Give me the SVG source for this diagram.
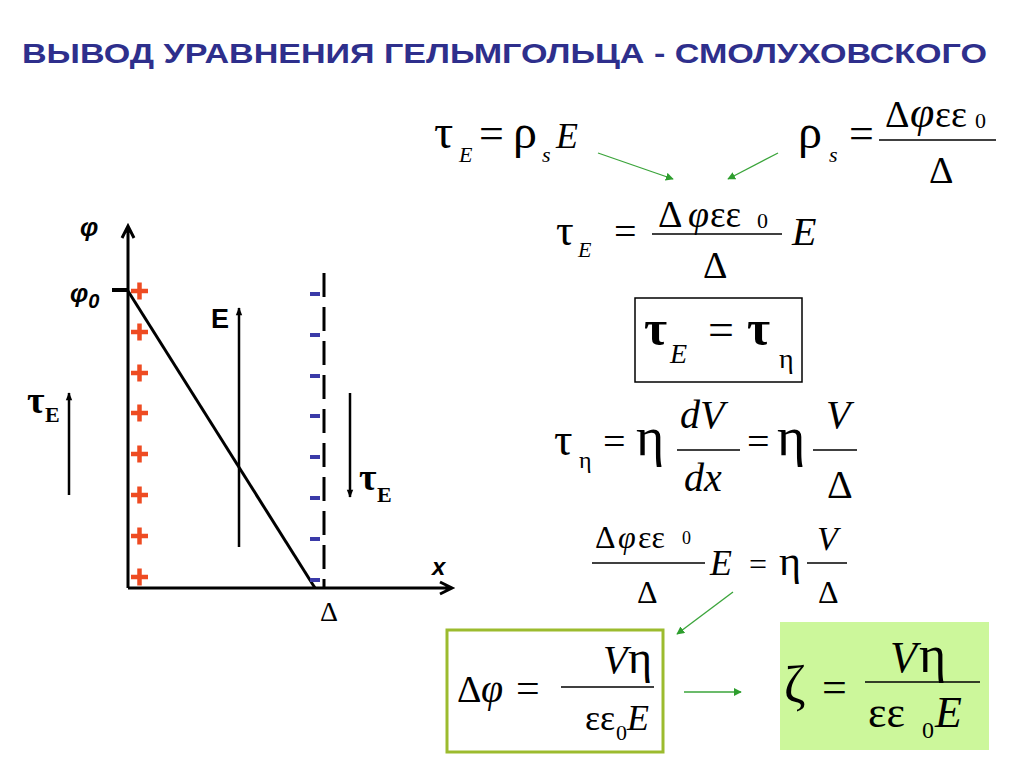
<svg xmlns="http://www.w3.org/2000/svg" width="1024" height="768" viewBox="0 0 1024 768">
<defs>
<style>
.title{font-family:"Liberation Sans",Arial,sans-serif;font-weight:bold;font-size:28px;fill:#2e2f8c}
.m{font-family:"Liberation Serif","Times New Roman",serif;fill:#000}
.i{font-style:italic}
.ax{stroke:#000;stroke-width:3;fill:none}
.plus{stroke:#ee4b22;stroke-width:4.5}
.minus{fill:#3a3aa8}
.g{stroke:#3aa43a;stroke-width:1.3;fill:none}
.lbl{font-family:"Liberation Sans",Arial,sans-serif;font-weight:bold;fill:#000}
.bar{stroke:#000;stroke-width:1.6}
</style>
<marker id="ga" viewBox="0 0 10 10" refX="9" refY="5" markerWidth="8" markerHeight="8" markerUnits="userSpaceOnUse" orient="auto">
<path d="M0,0 L10,5 L0,10 z" fill="#2e9e2e"/>
</marker>
<marker id="ba" viewBox="0 0 10 10" refX="9" refY="5" markerWidth="12" markerHeight="8" markerUnits="userSpaceOnUse" orient="auto">
<path d="M0,1 L10,5 L0,9 z" fill="#000"/>
</marker>
</defs>
<rect width="1024" height="768" fill="#fff"/>
<text class="title" x="22" y="63" textLength="965" lengthAdjust="spacingAndGlyphs">ВЫВОД УРАВНЕНИЯ ГЕЛЬМГОЛЬЦА - СМОЛУХОВСКОГО</text>

<g id="diagram">
<path class="ax" d="M128,588 V228 M122,238 L128,226 L134,238"/>
<path class="ax" d="M128,588 H450 M440,582 L452,588 L440,594"/>
<line x1="112" y1="290" x2="128" y2="290" stroke="#000" stroke-width="4"/>
<line x1="128" y1="291" x2="315" y2="588" stroke="#000" stroke-width="3"/>
<line x1="324" y1="273" x2="324" y2="588" stroke="#000" stroke-width="3" stroke-dasharray="24 10"/>
<g id="plus">
<path class="plus" d="M131,291h17M139.5,282.5v17 M131,332h17M139.5,323.5v17 M131,373h17M139.5,364.5v17 M131,413h17M139.5,404.5v17 M131,454h17M139.5,445.5v17 M131,495h17M139.5,486.5v17 M131,536h17M139.5,527.5v17 M131,577h17M139.5,568.5v17"/>
</g>
<g id="minus">
<rect class="minus" x="310" y="292" width="10" height="4"/>
<rect class="minus" x="310" y="333" width="10" height="4"/>
<rect class="minus" x="310" y="374" width="10" height="4"/>
<rect class="minus" x="310" y="414" width="10" height="4"/>
<rect class="minus" x="310" y="455" width="10" height="4"/>
<rect class="minus" x="310" y="496" width="10" height="4"/>
<rect class="minus" x="310" y="537" width="10" height="4"/>
<rect class="minus" x="310" y="578" width="10" height="4"/>
</g>
<line x1="239" y1="547" x2="239" y2="308" stroke="#000" stroke-width="2.5" marker-end="url(#ba)"/>
<line x1="69" y1="495" x2="69" y2="393" stroke="#000" stroke-width="2.5" marker-end="url(#ba)"/>
<line x1="350" y1="393" x2="350" y2="497" stroke="#000" stroke-width="2.5" marker-end="url(#ba)"/>
<text class="lbl i" x="80" y="236" font-size="26">φ</text>
<text class="lbl i" x="70" y="302" font-size="26">φ<tspan font-size="20" dy="6">0</tspan></text>
<text class="lbl" x="211" y="328" font-size="27">E</text>
<text class="lbl i" x="432" y="575" font-size="24">x</text>
<text class="m" x="27" y="413" font-size="38" font-weight="bold">τ</text>
<text class="m" x="45" y="422" font-size="22" font-weight="bold">E</text>
<text class="m" x="359" y="490" font-size="38" font-weight="bold">τ</text>
<text class="m" x="377" y="502" font-size="22" font-weight="bold">E</text>
<text class="m" x="320" y="621" font-size="28">Δ</text>
</g>

<g id="f1">
<text class="m" x="434" y="148" font-size="48">τ</text>
<text class="m i" x="459" y="162" font-size="22">E</text>
<text class="m" x="479" y="148" font-size="44">=</text>
<text class="m" x="513" y="148" font-size="48">ρ</text>
<text class="m i" x="542" y="162" font-size="22">s</text>
<text class="m i" x="556" y="148" font-size="36">E</text>
</g>

<g id="f2">
<text class="m" x="798" y="148" font-size="48">ρ</text>
<text class="m i" x="829" y="162" font-size="22">s</text>
<text class="m" x="849" y="148" font-size="44">=</text>
<line class="bar" x1="879" y1="140" x2="996" y2="140"/>
<text class="m" x="885" y="127" font-size="38">Δ</text>
<text class="m i" x="910" y="127" font-size="44">φ</text>
<text class="m" x="935" y="127" font-size="38">εε</text>
<text class="m" x="975" y="128" font-size="22">0</text>
<text class="m" x="929" y="183" font-size="38">Δ</text>
</g>

<g id="f3">
<text class="m" x="556" y="245" font-size="44">τ</text>
<text class="m i" x="578" y="257" font-size="22">E</text>
<text class="m" x="614" y="245" font-size="40">=</text>
<line class="bar" x1="652" y1="234" x2="782" y2="234"/>
<text class="m" x="658" y="227" font-size="38">Δ</text>
<text class="m i" x="688" y="227" font-size="38">φ</text>
<text class="m" x="710" y="227" font-size="37">εε</text>
<text class="m" x="757" y="228" font-size="22">0</text>
<text class="m i" x="792" y="245" font-size="40">E</text>
<text class="m" x="703" y="278" font-size="38">Δ</text>
</g>

<g id="f4">
<rect x="635" y="298" width="167" height="84" fill="#fff" stroke="#000" stroke-width="1.5"/>
<text class="m" x="644" y="345" font-size="50" font-weight="bold">τ</text>
<text class="m i" x="670" y="363" font-size="28">E</text>
<text class="m" x="708" y="345" font-size="46">=</text>
<text class="m" x="747" y="345" font-size="50" font-weight="bold">τ</text>
<text class="m" x="779" y="368" font-size="28">η</text>
</g>

<g id="f5">
<text class="m" x="554" y="455" font-size="46">τ</text>
<text class="m" x="579" y="468" font-size="24">η</text>
<text class="m" x="603" y="455" font-size="40">=</text>
<text class="m" x="636" y="455" font-size="54">η</text>
<line class="bar" x1="677" y1="450" x2="740" y2="450"/>
<text class="m i" x="680" y="428" font-size="40">dV</text>
<text class="m i" x="684" y="491" font-size="40">dx</text>
<text class="m" x="747" y="455" font-size="40">=</text>
<text class="m" x="777" y="455" font-size="54">η</text>
<line class="bar" x1="813" y1="450" x2="857" y2="450"/>
<text class="m i" x="826" y="428" font-size="40">V</text>
<text class="m" x="827" y="498" font-size="40">Δ</text>
</g>

<g id="f6">
<line class="bar" x1="592" y1="563" x2="705" y2="563"/>
<text class="m" x="595" y="548" font-size="32">Δ</text>
<text class="m i" x="618" y="548" font-size="32">φ</text>
<text class="m" x="638" y="548" font-size="32">εε</text>
<text class="m" x="682" y="544" font-size="18">0</text>
<text class="m" x="637" y="603" font-size="32">Δ</text>
<text class="m i" x="710" y="575" font-size="36">E</text>
<text class="m" x="749" y="575" font-size="32">=</text>
<text class="m" x="779" y="575" font-size="42">η</text>
<line class="bar" x1="807" y1="563" x2="847" y2="563"/>
<text class="m i" x="817" y="550" font-size="34">V</text>
<text class="m" x="818" y="603" font-size="32">Δ</text>
</g>

<g id="f7">
<rect x="447" y="630" width="216" height="122" fill="#fff" stroke="#9cbb2e" stroke-width="3"/>
<text class="m" x="457" y="702" font-size="38">Δ</text>
<text class="m i" x="481" y="702" font-size="40">φ</text>
<text class="m" x="516" y="702" font-size="42">=</text>
<line class="bar" x1="561" y1="687" x2="654" y2="687"/>
<text class="m i" x="603" y="673" font-size="40">V</text>
<text class="m" x="628" y="673" font-size="46">η</text>
<text class="m" x="585" y="730" font-size="36">εε</text>
<text class="m" x="616" y="740" font-size="22">0</text>
<text class="m i" x="627" y="730" font-size="36">E</text>
</g>

<g id="f8">
<rect x="780" y="622" width="209" height="128" fill="#ccf79b"/>
<text class="m" x="784" y="702" font-size="52">ζ</text>
<text class="m" x="822" y="702" font-size="44">=</text>
<line class="bar" x1="865" y1="682" x2="980" y2="682"/>
<text class="m i" x="890" y="672" font-size="44">V</text>
<text class="m" x="919" y="672" font-size="52">η</text>
<text class="m" x="868" y="727" font-size="44">εε</text>
<text class="m" x="922" y="738" font-size="24">0</text>
<text class="m i" x="935" y="727" font-size="44">E</text>
</g>

<g id="connectors">
<line class="g" x1="598" y1="153" x2="673" y2="179" marker-end="url(#ga)"/>
<line class="g" x1="778" y1="153" x2="728" y2="179" marker-end="url(#ga)"/>
<line class="g" x1="733" y1="592" x2="677" y2="634" marker-end="url(#ga)"/>
<line class="g" x1="684" y1="692" x2="741" y2="692" marker-end="url(#ga)"/>
</g>
</svg>
